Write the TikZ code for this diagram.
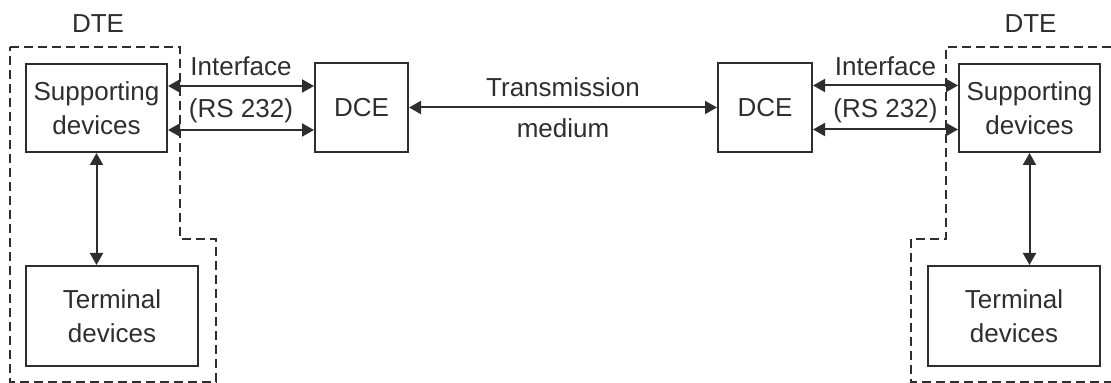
\documentclass[tikz,border=0pt]{standalone}
\usepackage{fontspec}
\setmainfont{Liberation Sans}
\usetikzlibrary{arrows.meta}
\usetikzlibrary{calc}
\definecolor{ink}{HTML}{2E2E2E}
\tikzset{>={Triangle[length=6pt,width=6.5pt]}}
\tikzset{blk/.style={draw=ink, line width=1pt, align=center, text=ink, inner sep=0pt}}
\tikzset{lbl/.style={text=ink, inner sep=0pt, anchor=base}}
\tikzset{frame/.style={draw=ink, line width=1pt, dash pattern=on 4.5pt off 2.5pt}}

\begin{document}
\begin{tikzpicture}[x=0.5pt, y=-0.5pt, font=\fontsize{13}{17.25}\selectfont, line width=1pt, draw=ink]
\useasboundingbox (0,0) rectangle (1111,383);

% DTE outlines
\draw[frame] (10,47) -| (180,239) -| (216,382) -- (10,382) -- cycle;
\draw[frame] (1111,47) -| (946,239) -| (911,382) -- (1111,382);
\node[lbl] (dteL) at (98,33) {DTE};
\node[lbl] (dteR) at (1030.5,33) {DTE};

% left station
\node[blk, minimum width=70.5pt, minimum height=44pt] (supL) at (96.5,108) {Supporting\\devices};
\node[blk, minimum width=86pt, minimum height=50pt] (termL) at (112,316) {Terminal\\devices};
\node[blk, minimum width=46.5pt, minimum height=44.5pt] (dceL) at (361.5,107.5) {DCE};

% right station
\node[blk, minimum width=47pt, minimum height=44.5pt] (dceR) at (765,107.5) {DCE};
\node[blk, minimum width=70.5pt, minimum height=44pt] (supR) at (1029.5,108) {Supporting\\devices};
\node[blk, minimum width=86pt, minimum height=50pt] (termR) at (1014,316) {Terminal\\devices};

\draw[<->, ink] (supL.south) -- (supL.south |- termL.north);
\draw[<->, ink] (supR.south) -- (supR.south |- termR.north);

% interfaces
\draw[<->, ink] ([yshift=11pt]supL.east) -- ([yshift=11pt]supL.east -| dceL.west)
  node[lbl, midway, yshift=5pt] {Interface};
\draw[<->, ink] ([yshift=-11pt]supL.east) -- ([yshift=-11pt]supL.east -| dceL.west)
  node[lbl, midway, yshift=6pt] {(RS 232)};
\draw[<->, ink] ([yshift=11pt]dceR.east) -- ([yshift=11pt]dceR.east -| supR.west)
  node[lbl, midway, yshift=5pt] {Interface};
\draw[<->, ink] ([yshift=-11pt]dceR.east) -- ([yshift=-11pt]dceR.east -| supR.west)
  node[lbl, midway, yshift=6pt] {(RS 232)};

% link between the two DCEs
\draw[<->, ink] (dceL) -- (dceR)
  node[lbl, midway, yshift=5.5pt] {Transmission}
  node[lbl, midway, yshift=-14.8pt] {medium};
\end{tikzpicture}
\end{document}
